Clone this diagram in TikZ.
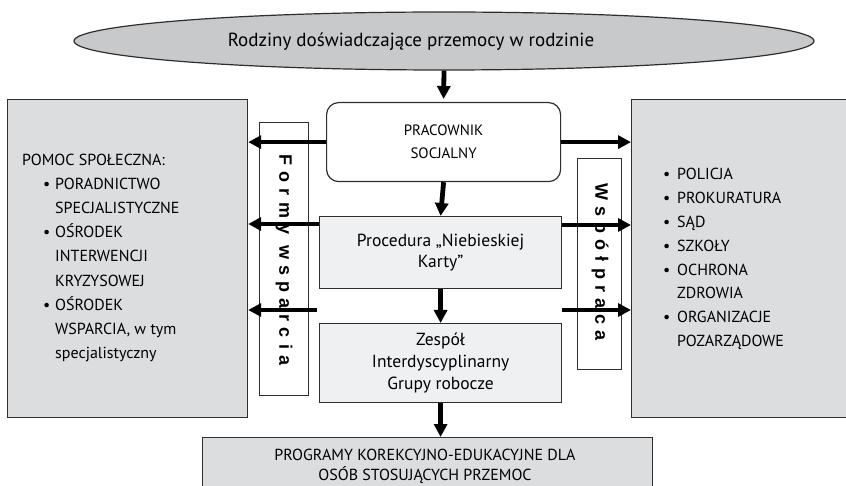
\documentclass[tikz,border=0pt]{standalone}
\usepackage{fontspec}
\setmainfont{PT Sans}
\newfontfamily\spaced[LetterSpace=34]{Liberation Sans}
\usetikzlibrary{arrows.meta,shapes.geometric,calc}
\definecolor{ellgray}{HTML}{C8C9CB}
\definecolor{boxgray}{HTML}{DCDDDF}
\definecolor{lightbox}{HTML}{EFF0F1}
\definecolor{edge}{HTML}{2E2E2E}
\newcommand{\lbul}{\hspace*{21pt}\makebox[12pt][l]{•}}
\newcommand{\lind}{\hspace*{33pt}}
\newcommand{\rbul}{\makebox[14pt][l]{•}}
\newcommand{\rind}{\hspace*{14pt}}
\begin{document}
\begin{tikzpicture}[x=1pt,y=-1pt,
  boxstyle/.style={draw=edge, line width=1.2pt},
  arr/.style={line width=4.8pt, draw=black, -{Triangle[length=13pt,width=13pt]}},
  vtext/.style={font=\spaced\bfseries\fontsize{18}{18}\selectfont, rotate=-90, inner sep=0pt}]
\clip (0,0) rectangle (846,486);
\fill[white] (0,0) rectangle (846,486);
% top ellipse
\node[ellipse, boxstyle, fill=ellgray, minimum width=740pt, minimum height=58pt, inner sep=0pt] (fam) at (444,41) {};
\node[font=\fontsize{19}{22}\selectfont, inner sep=0pt] (famtext) at (411,42) {Rodziny doświadczające przemocy w rodzinie};
% side boxes
\node[boxstyle, fill=boxgray, minimum width=240pt, minimum height=318pt, anchor=north west, inner sep=0pt] (left) at (7,99) {};
\node[boxstyle, fill=boxgray, minimum width=230pt, minimum height=318pt, anchor=north west, inner sep=0pt] (right) at (631,99) {};
\node[boxstyle, fill=white, minimum width=49pt, minimum height=273pt, anchor=north west, inner sep=0pt] (formy) at (259,122) {};
\node[boxstyle, fill=white, minimum width=44pt, minimum height=211pt, anchor=north west, inner sep=0pt] (wsp) at (577,158) {};
\node[vtext] (formytext) at (284,260) {Formy wsparcia};
\node[vtext] (wsptext) at (600,262) {Współpraca};
% side texts
\node[anchor=west, align=left, inner sep=0pt, font=\fontsize{16}{24.25}\selectfont] (lefttext) at (22,258)
 {POMOC SPOŁECZNA:\\ \lbul PORADNICTWO\\ \lind SPECJALISTYCZNE\\ \lbul OŚRODEK\\ \lind INTERWENCJI\\ \lind KRYZYSOWEJ\\ \lbul OŚRODEK\\ \lind WSPARCIA, w tym\\ \lind specjalistyczny};
\node[anchor=west, align=left, inner sep=0pt, font=\fontsize{16}{23.9}\selectfont] (righttext) at (663,259)
 {\rbul POLICJA\\ \rbul PROKURATURA\\ \rbul SĄD\\ \rbul SZKOŁY\\ \rbul OCHRONA\\ \rind ZDROWIA\\ \rbul ORGANIZACJE\\ \rind POZARZĄDOWE};
% centre column
\node[boxstyle, fill=white, rounded corners=12pt, minimum width=234pt, minimum height=79pt, anchor=north west, align=center, font=\fontsize{15}{23}\selectfont] (prac) at (326,102) {PRACOWNIK\\SOCJALNY};
\node[boxstyle, fill=lightbox, minimum width=242pt, minimum height=72pt, anchor=north west, align=center, font=\fontsize{17.5}{21}\selectfont] (proc) at (319,216) {Procedura „Niebieskiej\\Karty”};
\node[boxstyle, fill=lightbox, minimum width=242pt, minimum height=79pt, anchor=north west, align=center, font=\fontsize{17.5}{22}\selectfont] (zes) at (319,323) {Zespół\\Interdyscyplinarny\\Grupy robocze};
\node[boxstyle, fill=boxgray, minimum width=450pt, minimum height=80pt, anchor=north west, inner sep=0pt] (prog) at (202,437) {};
\node[align=center, inner sep=0pt, font=\fontsize{16}{20}\selectfont, anchor=north] (progtext) at (425,449) {PROGRAMY KOREKCYJNO-EDUKACYJNE DLA\\OSÓB STOSUJĄCYCH PRZEMOC};
% arrows
\draw[arr] (fam.south) -- ($(prac.north)+(0,-3)$);
\draw[arr] (prac.south) -- (proc.north);
\draw[arr] (proc.south) -- (zes.north);
\draw[arr] (zes.south) -- (zes.south |- prog.north);
\draw[arr] (prac.west) -- (prac.west -| left.east);
\coordinate (l2) at ($(proc.north west)+(0,8)$);
\coordinate (l3) at ($(zes.north west)+(-2,-13)$);
\draw[arr] (l2) -- (l2 -| left.east);
\draw[arr] (l3) -- (l3 -| left.east);
\draw[arr] (prac.east) -- (prac.east -| right.west);
\coordinate (r2) at ($(proc.north east)+(0,9)$);
\coordinate (r3) at ($(zes.north east)+(0,-13)$);
\draw[arr] (r2) -- (r2 -| right.west);
\draw[arr] (r3) -- (r3 -| right.west);
\end{tikzpicture}
\end{document}
